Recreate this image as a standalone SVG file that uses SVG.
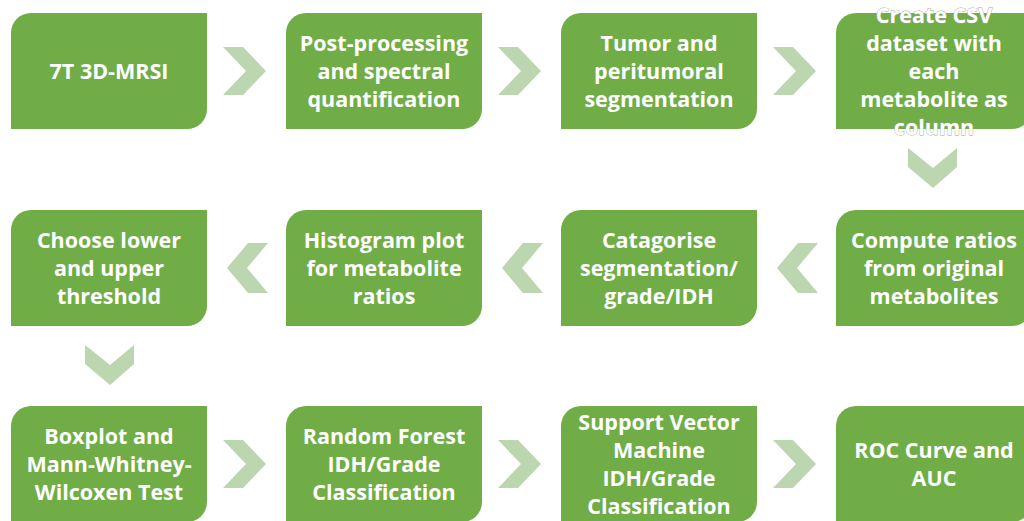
<svg xmlns="http://www.w3.org/2000/svg" width="1024" height="521" viewBox="0 0 1024 521">
<style>
.box{fill:#70ad47;}
.chev{fill:#bcd6b0;}
text{font-family:"Open Sans","Liberation Sans",sans-serif;font-weight:bold;font-size:21.5px;fill:#ffffff;text-anchor:middle;}
.ov{stroke:#9aa595;stroke-width:0.8;paint-order:stroke;}
</style>
<defs>
<path id="bx" d="M20,0 H196 V96 A20,20 0 0 1 176,116 H0 V20 A20,20 0 0 1 20,0 Z"/>
<polygon id="cr" points="0,0 20,0 43,24 20,48 0,48 23,24"/>
<polygon id="cl" points="0,25 21,0 41,0 20,25 41,50 21,50"/>
<polygon id="cd" points="0,0 25,20 49,0 49,19 25,40 0,19"/>
</defs>
<rect width="1024" height="521" fill="#ffffff"/>
<g id="connectors">
<use href="#cr" class="chev" x="223" y="47"/>
<use href="#cr" class="chev" x="498" y="47"/>
<use href="#cr" class="chev" x="773" y="47"/>
<use href="#cd" class="chev" x="908" y="148"/>
<use href="#cl" class="chev" x="777" y="243"/>
<use href="#cl" class="chev" x="502" y="243"/>
<use href="#cl" class="chev" x="227" y="243"/>
<use href="#cd" class="chev" x="85" y="345"/>
<use href="#cr" class="chev" x="223" y="440"/>
<use href="#cr" class="chev" x="498" y="440"/>
<use href="#cr" class="chev" x="773" y="440"/>
</g>
<g id="n1"><use href="#bx" class="box" x="11" y="13"/><text x="109" y="79">7T 3D-MRSI</text></g>
<g id="n2"><use href="#bx" class="box" x="286" y="13"/><text x="384" y="51">Post-processing</text><text x="384" y="79">and spectral</text><text x="384" y="107">quantification</text></g>
<g id="n3"><use href="#bx" class="box" x="561" y="13"/><text x="659" y="51">Tumor and</text><text x="659" y="79">peritumoral</text><text x="659" y="107">segmentation</text></g>
<g id="n4"><use href="#bx" class="box" x="836" y="13"/><text class="ov" x="934" y="23">Create CSV</text><text x="934" y="51">dataset with</text><text x="934" y="79">each</text><text x="934" y="107">metabolite as</text><text class="ov" x="934" y="135">column</text></g>
<g id="n5"><use href="#bx" class="box" x="836" y="210"/><text x="934" y="248">Compute ratios</text><text x="934" y="276">from original</text><text x="934" y="304">metabolites</text></g>
<g id="n6"><use href="#bx" class="box" x="561" y="210"/><text x="659" y="248">Catagorise</text><text x="659" y="276">segmentation/</text><text x="659" y="304">grade/IDH</text></g>
<g id="n7"><use href="#bx" class="box" x="286" y="210"/><text x="384" y="248">Histogram plot</text><text x="384" y="276">for metabolite</text><text x="384" y="304">ratios</text></g>
<g id="n8"><use href="#bx" class="box" x="11" y="210"/><text x="109" y="248">Choose lower</text><text x="109" y="276">and upper</text><text x="109" y="304">threshold</text></g>
<g id="n9"><use href="#bx" class="box" x="11" y="406"/><text x="109" y="444">Boxplot and</text><text x="109" y="472">Mann-Whitney-</text><text x="109" y="500">Wilcoxen Test</text></g>
<g id="n10"><use href="#bx" class="box" x="286" y="406"/><text x="384" y="444">Random Forest</text><text x="384" y="472">IDH/Grade</text><text x="384" y="500">Classification</text></g>
<g id="n11"><use href="#bx" class="box" x="561" y="406"/><text x="659" y="430">Support Vector</text><text x="659" y="458">Machine</text><text x="659" y="486">IDH/Grade</text><text x="659" y="514">Classification</text></g>
<g id="n12"><use href="#bx" class="box" x="836" y="406"/><text x="934" y="458">ROC Curve and</text><text x="934" y="486">AUC</text></g>
</svg>
